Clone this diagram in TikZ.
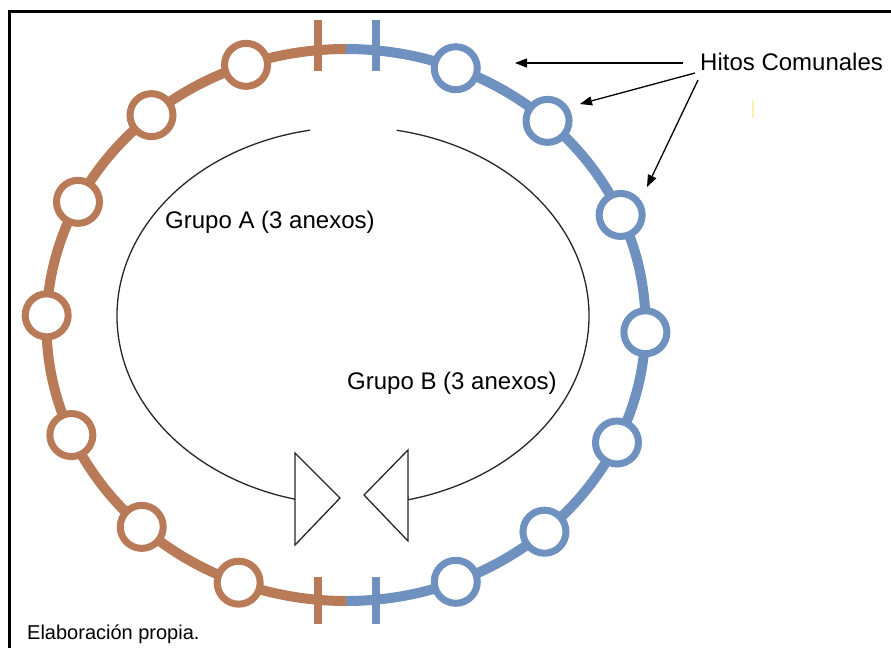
\documentclass[tikz,border=0pt]{standalone}
\usepackage{fontspec}
\setmainfont{Liberation Sans}
\usetikzlibrary{calc,arrows.meta}
\definecolor{ringbrown}{RGB}{185,122,87}
\definecolor{ringblue}{RGB}{110,145,192}
\definecolor{faintyellow}{RGB}{255,240,175}
\tikzset{
  brownring/.style={draw=ringbrown,line width=10pt},
  bluering/.style={draw=ringblue,line width=10pt},
  hito/.style={circle,line width=7pt,fill=white,minimum size=43pt,inner sep=0pt},
  tickmark/.style={line width=8pt},
  inner/.style={draw=black!85,line width=1.3pt},
  headtri/.style={draw=black!85,line width=1.3pt,fill=white,line join=miter},
  callout/.style={draw=black,line width=1.3pt,-{Triangle[length=12pt,width=9pt]}},
  lbl/.style={anchor=base west,inner sep=0pt,font=\fontsize{24}{28}\selectfont},
}
\begin{document}
\begin{tikzpicture}[x=1pt,y=-1pt]
\useasboundingbox (0,0) rectangle (891,648);
% frame (top and left only)
\draw[line width=3.3pt] (891,11.5) -- (9.7,11.5) -- (9.7,648);
% outer ring
\coordinate (c) at (346,325);
\draw[brownring] ($(c)+(90:299.5pt and 276pt)$) arc[start angle=90,end angle=270,x radius=299.5pt,y radius=276pt];
\draw[bluering] ($(c)+(90:299.5pt and 276pt)$) arc[start angle=90,end angle=-90,x radius=299.5pt,y radius=276pt];
% ticks
\draw[tickmark,ringbrown] (318,20) -- (318,71);
\draw[tickmark,ringblue] (376,20) -- (376,71);
\draw[tickmark,ringbrown] (318,577) -- (318,624);
\draw[tickmark,ringblue] (376,577) -- (376,624);
% markers (hitos)
\foreach \a [count=\i] in {109.5,130.5,153.5,178,203.5,227,249}
  \node[hito,draw=ringbrown] (hb\i) at ($(c)+(\a:299.5pt and 276pt)$) {};
\foreach \a [count=\i] in {68.5,47.7,23.5,-1.5,-25.2,-48.5,-68.5}
  \node[hito,draw=ringblue] (hu\i) at ($(c)+(\a:299.5pt and 276pt)$) {};
% inner arcs with open triangle heads
\coordinate (ic) at (353,316);
\coordinate (la) at (295,499);
\coordinate (ra) at (408,496);
\draw[inner] ($(ic)+(100.5:236pt and 189pt)$) arc[start angle=100.5,end angle=256.2,x radius=236pt,y radius=189pt] -- (la);
\draw[inner] ($(ic)+(79.3:236pt and 189pt)$) arc[start angle=79.3,end angle=-76.5,x radius=236pt,y radius=189pt] -- (ra);
\draw[headtri] (295,453) -- (340,498) -- (295,545) -- cycle;
\draw[headtri] (408,450) -- (364,495) -- (408,541) -- cycle;
% labels
\node[lbl] (hitos) at (700,70) {Hitos Comunales};
\node[lbl] (ga) at (165,228) {Grupo A (3 anexos)};
\node[lbl] (gb) at (347,389) {Grupo B (3 anexos)};
\node[anchor=base west,inner sep=0pt,font=\fontsize{20}{24}\selectfont] (src) at (27,639) {Elaboración propia.};
% callout arrows
\coordinate (s1) at (683,63);
\coordinate (s2) at (695,73);
\coordinate (s3) at (698,80);
\coordinate (t1) at (515,63);
\coordinate (t2) at (580,104);
\coordinate (t3) at (647,187);
\draw[callout] (s1) -- (t1);
\draw[callout] (s2) -- (t2);
\draw[callout] (s3) -- (t3);
% faint mark
\draw[faintyellow,line width=1.2pt] (753,100) -- (753,118);
\end{tikzpicture}
\end{document}
